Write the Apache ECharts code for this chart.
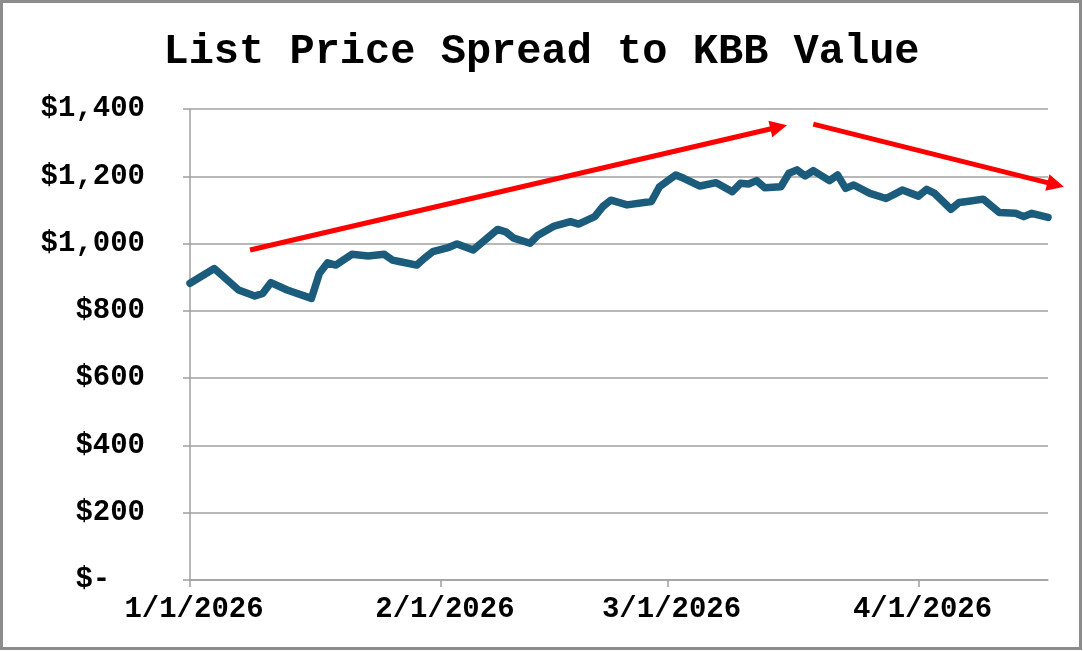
<!DOCTYPE html>
<html>
<head>
<meta charset="utf-8">
<script src="https://cdn.jsdelivr.net/npm/echarts@6/dist/echarts.min.js"></script>
<style>
html,body{margin:0;padding:0;background:#fff;}
#chart{width:1083px;height:651px;}
</style>
</head>
<body>
<div id="chart"></div>
<script>
// ---- data ----
const titleText = 'List Price Spread to KBB Value';
const dates = [
  '2026-01-01','2026-01-04','2026-01-07','2026-01-09','2026-01-10','2026-01-11','2026-01-13',
  '2026-01-16','2026-01-17','2026-01-18','2026-01-19','2026-01-21','2026-01-23','2026-01-25',
  '2026-01-26','2026-01-27','2026-01-29','2026-01-30','2026-01-31','2026-02-02','2026-02-03',
  '2026-02-05','2026-02-08','2026-02-09','2026-02-10','2026-02-12','2026-02-13','2026-02-15',
  '2026-02-17','2026-02-18','2026-02-20','2026-02-21','2026-02-22','2026-02-24','2026-02-27',
  '2026-02-28','2026-03-02','2026-03-03','2026-03-05','2026-03-07','2026-03-09','2026-03-10',
  '2026-03-11','2026-03-12','2026-03-13','2026-03-15','2026-03-16','2026-03-17','2026-03-18',
  '2026-03-19','2026-03-21','2026-03-22','2026-03-23','2026-03-24','2026-03-26','2026-03-28',
  '2026-03-30','2026-04-01','2026-04-02','2026-04-03','2026-04-05','2026-04-06','2026-04-07',
  '2026-04-09','2026-04-11','2026-04-13','2026-04-14','2026-04-15','2026-04-17'
];
const spread = [
  882, 926, 862, 844, 852, 884, 862,
  837, 912, 943, 936, 968, 963, 968,
  951, 946, 936, 957, 976, 989, 999,
  981, 1042, 1035, 1016, 1001, 1025, 1052,
  1065, 1058, 1080, 1110, 1129, 1115, 1125,
  1169, 1204, 1194, 1171, 1181, 1154, 1179,
  1177, 1187, 1166, 1169, 1209, 1219, 1201,
  1217, 1187, 1204, 1164, 1174, 1149, 1134,
  1159, 1141, 1161, 1149, 1102, 1122, 1125,
  1132, 1092, 1090, 1080, 1090, 1078
];
const xRange = ['2026-01-01', '2026-04-17'];
const xTickDates = ['2026-01-01', '2026-02-01', '2026-03-01', '2026-04-01'];
const yMin = 0, yMax = 1400, yStep = 200;
// annotation arrows: [startDate, startValue, tipDate, tipValue]
const arrowUp = ['2026-01-08T10:00', 981, '2026-03-15T18:00', 1352];
const arrowDown = ['2026-03-19T00:00', 1355, '2026-04-18T23:00', 1169];

// ---- helpers ----
function toTs(s) {
  const [d, t] = s.split('T');
  const [y, m, dd] = d.split('-').map(Number);
  let hh = 0, mm = 0;
  if (t) { [hh, mm] = t.split(':').map(Number); }
  return new Date(y, m - 1, dd, hh, mm).getTime();
}
function fmtDate(v) {
  const d = new Date(v);
  return (d.getMonth() + 1) + '/' + d.getDate() + '/' + d.getFullYear();
}
function fmtMoney(v) {
  if (v === 0) return '$-  ';
  return '$' + v.toLocaleString('en-US');
}

const seriesData = dates.map((d, i) => [toTs(d), spread[i]]);
const tickTs = xTickDates.map(toTs);

const FONT = 'Liberation Mono';
const chart = echarts.init(document.getElementById('chart'), null, {renderer: 'canvas'});
chart.setOption({
  animation: false,
  backgroundColor: '#ffffff',
  title: {
    text: titleText,
    left: 'center',
    top: 26,
    textStyle: {fontFamily: FONT, fontWeight: 'bold', fontSize: 42, color: '#000'}
  },
  grid: {left: 190, right: 35, top: 109, bottom: 71, containLabel: false},
  xAxis: {
    type: 'value',
    min: toTs(xRange[0]),
    max: toTs(xRange[1]),
    axisLine: {show: true, lineStyle: {color: '#a0a0a0', width: 1.5}},
    axisTick: {show: true, length: 7, lineStyle: {color: '#a0a0a0', width: 1.5},
      customValues: tickTs},
    axisLabel: {
      customValues: tickTs,
      formatter: v => fmtDate(v),
      fontFamily: FONT, fontWeight: 'bold', fontSize: 29, color: '#000',
      margin: 15, padding: [0, 0, 0, 8],
      showMinLabel: true, showMaxLabel: true, hideOverlap: false
    },
    splitLine: {show: false}
  },
  yAxis: {
    type: 'value',
    min: yMin, max: yMax, interval: yStep,
    axisLine: {show: true, lineStyle: {color: '#a0a0a0', width: 1.5}},
    axisTick: {show: true, length: 7, lineStyle: {color: '#a0a0a0', width: 1.5}},
    axisLabel: {
      formatter: v => fmtMoney(v),
      fontFamily: FONT, fontWeight: 'bold', fontSize: 29, color: '#000',
      margin: 45
    },
    splitLine: {show: true, lineStyle: {color: '#a0a0a0', width: 1.5}}
  },
  series: [{
    type: 'line',
    data: seriesData,
    showSymbol: false,
    symbol: 'none',
    smooth: false,
    lineStyle: {color: '#1b5b7c', width: 7.5, join: 'round', cap: 'round'},
    itemStyle: {color: '#1b5b7c'},
    clip: false
  }]
});

// annotation arrows, positioned through the chart's own scales
function arrowGraphics(a) {
  const p0 = chart.convertToPixel({gridIndex: 0}, [toTs(a[0]), a[1]]);
  const p1 = chart.convertToPixel({gridIndex: 0}, [toTs(a[2]), a[3]]);
  const dx = p1[0] - p0[0], dy = p1[1] - p0[1];
  const len = Math.sqrt(dx * dx + dy * dy);
  const ux = dx / len, uy = dy / len, nx = -uy, ny = ux;
  const L = 17, W = 8.5;
  const bx = p1[0] - L * ux, by = p1[1] - L * uy;
  return [
    {type: 'line', silent: true, z: 50,
      shape: {x1: p0[0], y1: p0[1], x2: bx + 2 * ux, y2: by + 2 * uy},
      style: {stroke: '#ff0000', lineWidth: 5}},
    {type: 'polygon', silent: true, z: 50,
      shape: {points: [[p1[0], p1[1]], [bx + W * nx, by + W * ny], [bx - W * nx, by - W * ny]]},
      style: {fill: '#ff0000'}}
  ];
}
chart.setOption({
  graphic: [
    {type: 'rect', silent: true, z: 100,
      shape: {x: 1.5, y: 1.5, width: 1079, height: 647},
      style: {fill: 'none', stroke: '#8c8c8c', lineWidth: 3}}
  ].concat(arrowGraphics(arrowUp), arrowGraphics(arrowDown))
});
</script>
</body>
</html>
